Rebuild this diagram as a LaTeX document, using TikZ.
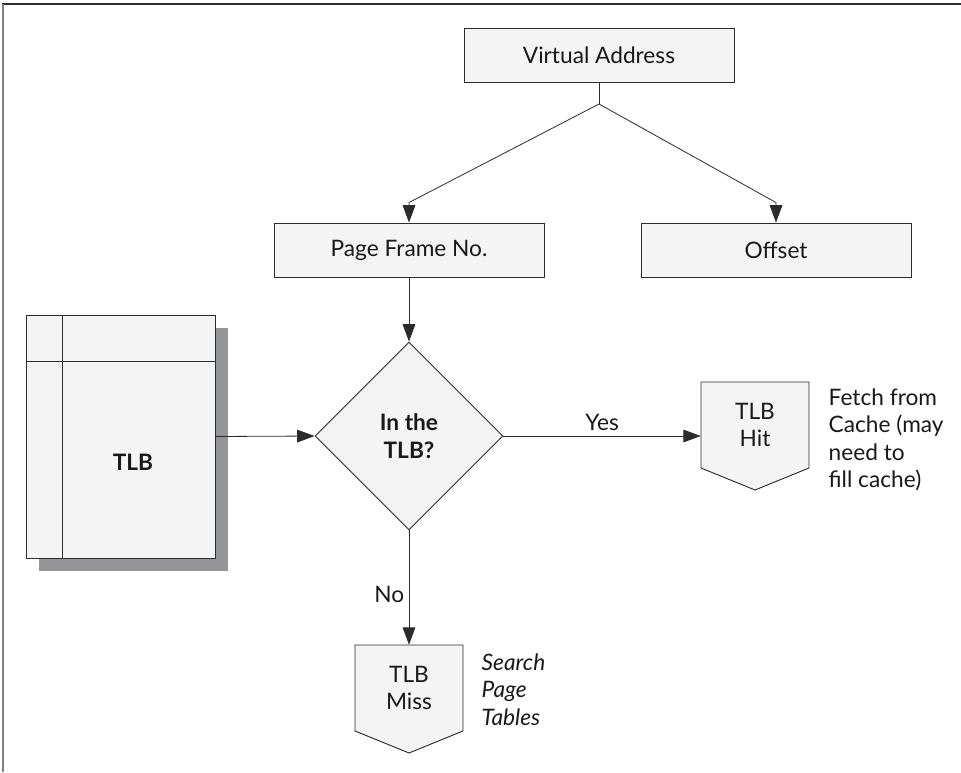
\documentclass[tikz,border=0pt]{standalone}
\usepackage{fontspec}
\setmainfont{Lato}
\usetikzlibrary{shapes.geometric,shadows,arrows.meta}

\definecolor{boxfill}{HTML}{F4F4F4}
\definecolor{tlbshadow}{HTML}{939598}
\definecolor{ink}{HTML}{2B2B2B}
\newcommand\diagfont{\fontsize{17}{20.5}\selectfont}

\begin{document}
\begin{tikzpicture}[x=0.75pt,y=-0.75pt,>={Triangle[length=13pt,width=9.5pt]},
    every node/.style={font=\diagfont,text=black!90},
    box/.style={draw=ink,fill=boxfill,line width=0.7pt,minimum width=202.5pt,minimum height=40.5pt,inner sep=0pt},
    flag/.style={draw=ink,fill=boxfill,line width=0.7pt},
    tagtext/.style={align=center,minimum width=81pt,minimum height=64.5pt,inner sep=0pt},
    line/.style={draw=ink,line width=0.6pt}]
    \useasboundingbox(0,0)rectangle(961,772);
    \draw[ink,line width=1.2pt](2,4)--(961,4);
    \draw[gray,line width=1.5pt](3,4)--(3,772);

    % address split
    \node[box](va)at(599,55){Virtual Address};
    \node[box](pfn)at(409,250){Page Frame No.};
    \node[box](off)at(776,250){Offset};
    \coordinate(split)at(599,104);
    \draw[line](va)--(split);
    \draw[line,->](split)--([yshift=15pt]pfn.north)--(pfn.north);
    \draw[line,->](split)--([yshift=15pt]off.north)--(off.north);

    % the TLB itself
    \node[box,drop shadow={shadow xshift=9.75pt,shadow yshift=-9.75pt,fill=tlbshadow,opacity=1},
        minimum width=141.75pt,minimum height=182.25pt](tlb)at(120.5,436.5){};
    \draw[line]([xshift=27.75pt]tlb.north west)--([xshift=27.75pt]tlb.south west);
    \draw[line]([yshift=-35.25pt]tlb.north west)--([yshift=-35.25pt]tlb.north east);
    \node[font=\diagfont\bfseries](tlbname)at(133,462){TLB};

    % lookup
    \node[box,diamond,aspect=1,minimum width=141pt,minimum height=141pt,align=center,
        font=\diagfont\bfseries](test)at(409,436){In the\\TLB?};
    \draw[line,->](pfn.south)--(test.north);
    \draw[line,->](tlb.east)--(test.west);

    % hit
    \filldraw[flag](701,382)--(809,382)--(809,468)--(755,490)--(701,468)--cycle;
    \node[tagtext](hit)at(755,425){TLB\\Hit};
    \draw[line,->](test.east)--(test.east-|hit.west)node[midway,above](yes){Yes};
    \node[anchor=north west,align=left](fetch)at(824,384){Fetch from\\Cache (may\\need to\\fill cache)};

    % miss
    \filldraw[flag](355,645)--(463,645)--(463,731)--(409,753)--(355,731)--cycle;
    \node[tagtext](miss)at(409,688){TLB\\Miss};
    \draw[line,->](test.south)--(miss.north)node[pos=0.56,left](no){No};
    \node[anchor=north west,align=left,font=\diagfont\itshape](search)at(477,649){Search\\Page\\Tables};
\end{tikzpicture}
\end{document}
